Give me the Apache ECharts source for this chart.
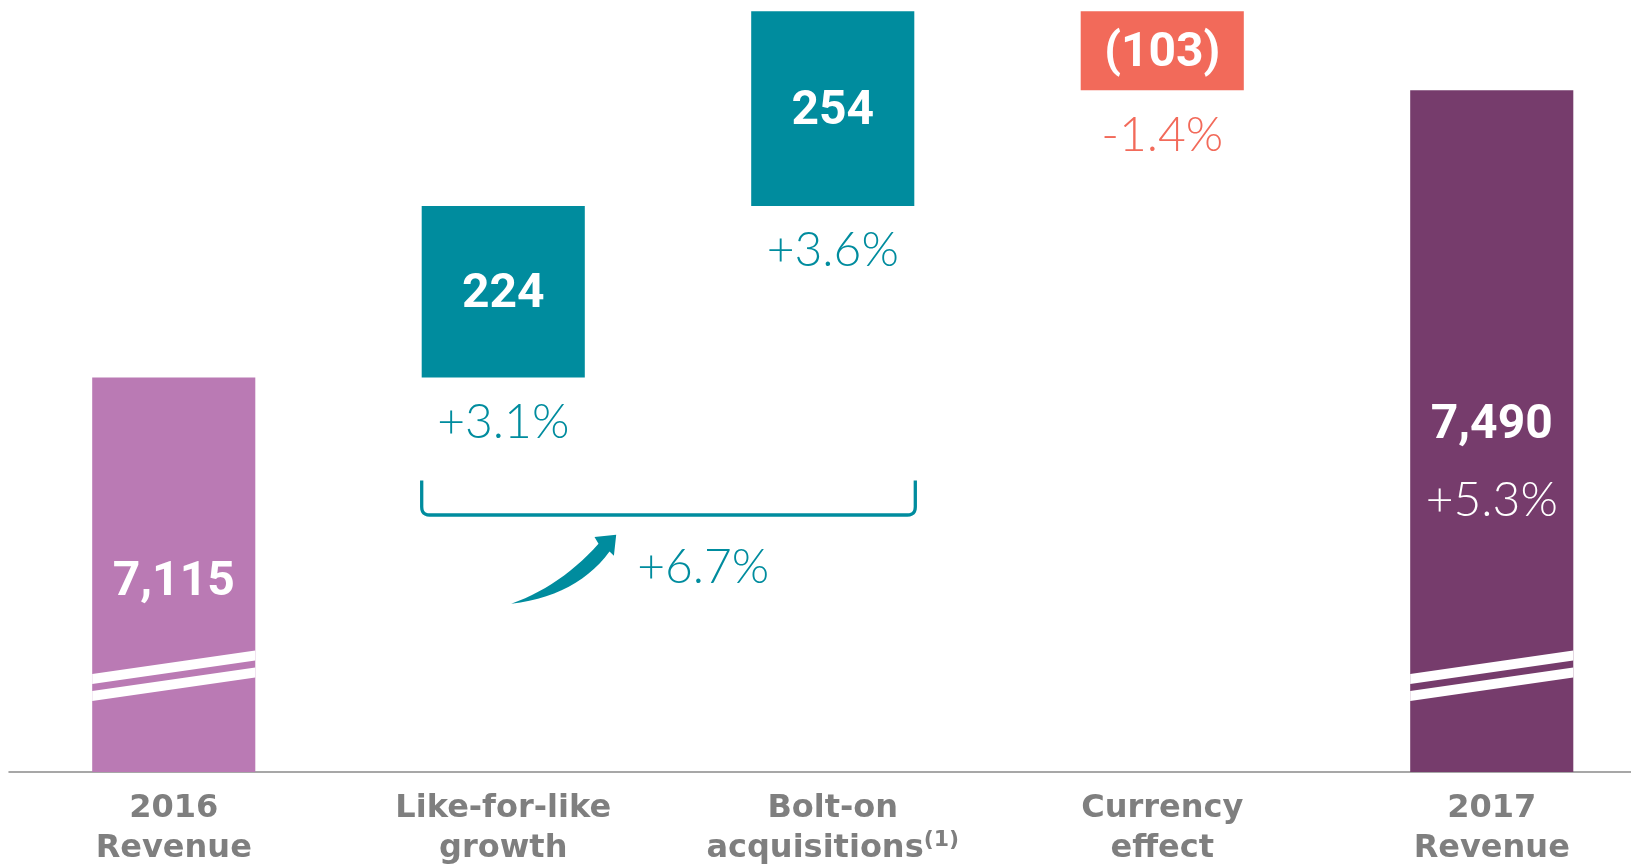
<!DOCTYPE html>
<html>
<head>
<meta charset="utf-8">
<script src="https://cdn.jsdelivr.net/npm/echarts@6/dist/echarts.min.js"></script>
<style>
  html, body { margin: 0; padding: 0; background: #fff; }
  #chart { width: 1631px; height: 865px; }
</style>
</head>
<body>
<div id="chart"></div>
<script>
// 売上ブリッジ 2016 -> 2017（ウォーターフォール）
const categories = ['2016\nRevenue', 'Like-for-like\ngrowth', 'Bolt-on\nacquisitions(1)', 'Currency\neffect', '2017\nRevenue'];
const amounts = [7115, 224, 254, -103, 7490];
const isTotal = [true, false, false, false, true];
const valueLabels = ['7,115', '224', '254', '(103)', '7,490'];
const growthLabels = ['', '+3.1%', '+3.6%', '-1.4%', '+5.3%'];
const organicSpan = [1, 2];        // LFL + bolt-on を括弧でまとめる
const organicLabel = '+6.7%';

const Y_MIN = 6600, Y_MAX = 7600;  // 軸は途中から（バーに省略線）

const colors = ['#BA7AB4', '#008C9E', '#008C9E', '#F26A5A', '#763C6C'];
const TEAL = '#008C9E';
const GREY = '#7F7F7F';
const BAR_RATIO = 0.495;
// 合計バー内のラベル位置（軸からの高さ px）
const totalValueRise = { 0: 189, 4: 346 };
const totalGrowthRise = { 4: 271 };

const numFont = { fontFamily: 'Roboto', fontWeight: 'bold', fontSize: 48 };
const pctFont = { fontFamily: 'Lato', fontWeight: 300, fontSize: 48 };

// [index, low, high] を累積で作る
let running = 0;
const bars = amounts.map((v, i) => {
  if (isTotal[i]) { running = v; return [i, Y_MIN, v]; }
  const lo = running;
  running += v;
  return [i, Math.min(lo, running), Math.max(lo, running)];
});

function text(x, y, str, font, fill) {
  return {
    type: 'text',
    style: Object.assign({ x, y, text: str, fill, align: 'center', verticalAlign: 'middle' }, font)
  };
}

function renderBar(params, api) {
  const i = api.value(0);
  const top = api.coord([i, api.value(2)]);
  const bottom = api.coord([i, api.value(1)]);
  const w = api.size([1, 0])[0] * BAR_RATIO;
  const x0 = top[0] - w / 2;
  const children = [{
    type: 'rect',
    shape: { x: x0, y: top[1], width: w, height: bottom[1] - top[1] },
    style: { fill: colors[i] }
  }];
  if (isTotal[i]) {
    const base = bottom[1];
    const drop = w * 0.144;
    // 省略を示す白い斜線2本
    [[98, 88], [81, 71]].forEach(([a, b]) => {
      children.push({
        type: 'polygon',
        shape: { points: [[x0, base - a], [x0 + w, base - a - drop], [x0 + w, base - b - drop], [x0, base - b]] },
        style: { fill: '#fff' }
      });
    });
    children.push(text(top[0], base - totalValueRise[i], valueLabels[i], numFont, '#fff'));
    if (growthLabels[i]) {
      children.push(text(top[0], base - totalGrowthRise[i], growthLabels[i], pctFont, '#fff'));
    }
  } else {
    children.push(text(top[0], (top[1] + bottom[1]) / 2 + 3, valueLabels[i], numFont, '#fff'));
    children.push(text(top[0], bottom[1] + 45, growthLabels[i], pctFont, colors[i]));
  }
  return { type: 'group', children };
}

function quad(p0, c, p1, n) {
  const pts = [];
  for (let k = 0; k <= n; k++) {
    const t = k / n, u = 1 - t;
    pts.push([u * u * p0[0] + 2 * u * t * c[0] + t * t * p1[0], u * u * p0[1] + 2 * u * t * c[1] + t * t * p1[1]]);
  }
  return pts;
}

function renderBracket(params, api) {
  const a = api.value(0), b = api.value(1);
  const w = api.size([1, 0])[0] * BAR_RATIO;
  const left = api.coord([a, Y_MIN])[0] - w / 2;
  const right = api.coord([b, Y_MIN])[0] + w / 2 + 1;
  const startY = api.coord([a, bars[a][1]])[1];
  const yTop = startY + 103, yBot = startY + 137.5, r = 8;

  const bracket = [[left, yTop]]
    .concat(quad([left, yBot - r], [left, yBot], [left + r, yBot], 6))
    .concat(quad([right - r, yBot], [right, yBot], [right, yBot - r], 6))
    .concat([[right, yTop]]);

  // 曲線矢印
  const tx = left + 89.5, ty = startY + 226.3;
  const P = (dx, dy) => [tx + dx, ty + dy];
  const arrow = quad(P(0, 0), P(49.8, -18), P(87.3, -60), 14)
    .concat([P(83.3, -66.7), P(105, -69), P(102.7, -48)])
    .concat(quad(P(98.3, -52.3), P(66, -8), P(0, 0), 14));

  return {
    type: 'group',
    children: [
      { type: 'polyline', shape: { points: bracket }, style: { stroke: TEAL, lineWidth: 3.3, fill: null } },
      { type: 'polygon', shape: { points: arrow }, style: { fill: TEAL } },
      text(left + 281.5, startY + 190, organicLabel, pctFont, TEAL)
    ]
  };
}

const chart = echarts.init(document.getElementById('chart'));

chart.setOption({
  animation: false,
  grid: { left: 9, width: 1647.5, top: 6, bottom: 93, outerBoundsMode: 'none', containLabel: false },
  xAxis: {
    type: 'category',
    data: categories,
    axisLine: { lineStyle: { color: '#8A8A8A', width: 1.5 } },
    axisTick: { show: false },
    axisLabel: {
      interval: 0,
      margin: 17,
      color: GREY,
      fontFamily: 'DejaVu Sans',
      fontWeight: 'bold',
      fontSize: 32,
      lineHeight: 40,
      formatter: v => v.replace('(1)', '{sup|(1)}'),
      rich: {
        sup: { fontFamily: 'DejaVu Sans', fontWeight: 'bold', fontSize: 22, color: GREY, verticalAlign: 'top', lineHeight: 40 }
      }
    }
  },
  yAxis: { type: 'value', min: Y_MIN, max: Y_MAX, show: false, splitLine: { show: false } },
  series: [
    { type: 'custom', renderItem: renderBar, data: bars, clip: false },
    { type: 'custom', renderItem: renderBracket, data: [organicSpan], clip: false }
  ]
});

window.addEventListener('resize', () => chart.resize());
</script>
</body>
</html>
